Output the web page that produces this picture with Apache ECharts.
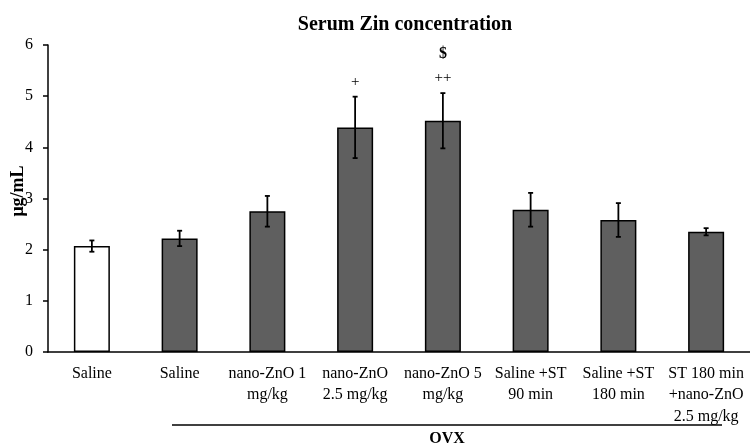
<!DOCTYPE html>
<html>
<head>
<meta charset="utf-8">
<script src="https://cdn.jsdelivr.net/npm/echarts@6/dist/echarts.min.js"></script>
<style>
	html, body { margin: 0; padding: 0; background: #fff; }
	#chart { width: 750px; height: 448px; }
</style>
</head>
<body>
<div id="chart"></div>
<script>
	// 各组名称
	const categories = ['Saline', 'Saline', 'nano-ZnO 1\nmg/kg', 'nano-ZnO\n2.5 mg/kg', 'nano-ZnO 5\nmg/kg',
		'Saline +ST\n90 min', 'Saline +ST\n180 min', 'ST 180 min\n+nano-ZnO\n2.5 mg/kg'];
	// 均值 (μg/mL)
	const means = [2.07, 2.22, 2.75, 4.39, 4.52, 2.78, 2.58, 2.35];
	// 误差 (±)
	const errors = [0.11, 0.15, 0.30, 0.60, 0.54, 0.33, 0.33, 0.07];
	// 显著性标记
	const marksLower = ['', '', '', '+', '++', '', '', ''];
	const marksUpper = ['', '', '', '', '$', '', '', ''];
	const yTicks = [0, 1, 2, 3, 4, 5, 6];

	const serif = "'Liberation Serif', 'Times New Roman', serif";

	const chart = echarts.init(document.getElementById('chart'));

	const barData = means.map((v, i) => ({
		value: v,
		itemStyle: i === 0 ? { color: '#ffffff' } : undefined
	}));
	const errData = means.map((v, i) => [i, v - errors[i], v + errors[i]]);

	const option = {
		animation: false,
		title: {
			text: 'Serum Zin concentration',
			left: 400,
			top: 10,
			textAlign: 'center',
			textStyle: { fontFamily: serif, fontSize: 20, fontWeight: 'bold', color: '#000' }
		},
		grid: { left: 48, width: 704, top: 45, bottom: 96 },
		xAxis: {
			type: 'category',
			data: categories,
			axisLine: { lineStyle: { color: '#000', width: 1.5 } },
			axisTick: { show: false },
			axisLabel: {
				interval: 0,
				margin: 11,
				fontFamily: serif,
				fontSize: 16,
				lineHeight: 21.5,
				color: '#000'
			}
		},
		yAxis: {
			type: 'value',
			min: yTicks[0],
			max: yTicks[yTicks.length - 1],
			interval: 1,
			splitLine: { show: false },
			axisLine: { show: true, lineStyle: { color: '#000', width: 1.5 } },
			axisTick: { show: true, length: 5, lineStyle: { color: '#000', width: 1.5 } },
			axisLabel: { margin: 15, fontFamily: serif, fontSize: 16, color: '#000' }
		},
		series: [
			{
				type: 'bar',
				data: barData,
				barWidth: 36,
				itemStyle: { color: '#5f5f5f', borderColor: '#000', borderWidth: 1.5 }
			},
			{
				// 误差线
				type: 'custom',
				data: errData,
				z: 10,
				renderItem(params, api) {
					const x = api.value(0);
					const lo = api.coord([x, api.value(1)]);
					const hi = api.coord([x, api.value(2)]);
					const cap = 2.5;
					const style = { stroke: '#000', lineWidth: 1.8 };
					return {
						type: 'group',
						children: [
							{ type: 'line', shape: { x1: hi[0], y1: hi[1], x2: lo[0], y2: lo[1] }, style },
							{ type: 'line', shape: { x1: hi[0] - cap, y1: hi[1], x2: hi[0] + cap, y2: hi[1] }, style },
							{ type: 'line', shape: { x1: lo[0] - cap, y1: lo[1], x2: lo[0] + cap, y2: lo[1] }, style }
						]
					};
				}
			},
			{
				// 显著性标记
				type: 'custom',
				data: errData,
				z: 11,
				renderItem(params, api) {
					const i = params.dataIndex;
					const hi = api.coord([api.value(0), api.value(2)]);
					return {
						type: 'group',
						children: [
							{
								type: 'text',
								style: {
									text: marksLower[i], x: hi[0], y: hi[1] - 15,
									align: 'center', verticalAlign: 'middle',
									fontFamily: serif, fontSize: 15, fill: '#000'
								}
							},
							{
								type: 'text',
								style: {
									text: marksUpper[i], x: hi[0], y: hi[1] - 39,
									align: 'center', verticalAlign: 'middle',
									fontFamily: serif, fontSize: 16, fontWeight: 'bold', fill: '#000'
								}
							}
						]
					};
				}
			}
		],
		graphic: [
			{
				type: 'text',
				x: 18, y: 191,
				rotation: Math.PI / 2,
				style: {
					text: 'μg/mL', align: 'center', verticalAlign: 'middle',
					fontFamily: serif, fontSize: 18, fontWeight: 'bold', fill: '#000'
				}
			},
			{
				type: 'line',
				shape: { x1: 172, y1: 425, x2: 722, y2: 425 },
				style: { stroke: '#000', lineWidth: 1.5 }
			},
			{
				type: 'text',
				x: 447, y: 439,
				style: {
					text: 'OVX', align: 'center', verticalAlign: 'middle',
					fontFamily: serif, fontSize: 16, fontWeight: 'bold', fill: '#000'
				}
			}
		]
	};

	chart.setOption(option);
</script>
</body>
</html>
